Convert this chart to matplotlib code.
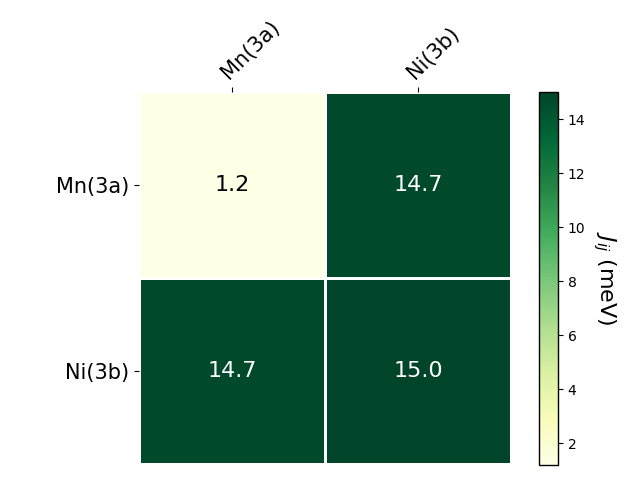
import numpy as np
import matplotlib
matplotlib.use("Agg")
import matplotlib.pyplot as plt

labels = ["Mn(3a)", "Ni(3b)"]
values = np.array([[1.2, 14.7],
                   [14.7, 15.0]])

fig = plt.figure(figsize=(6.4, 4.8), dpi=100)
ax = fig.add_axes([139 / 640, 16 / 480, 372 / 640, 372 / 480])
cax = fig.add_axes([539 / 640, 15 / 480, 19 / 640, 373 / 480])

mesh = ax.pcolormesh(values, cmap="YlGn", vmin=values.min(), vmax=values.max(),
                     edgecolors="white", linewidth=2)
ax.set_xlim(0, values.shape[1])
ax.set_ylim(values.shape[0], 0)
cbar = fig.colorbar(mesh, cax=cax)
cbar.outline.set_linewidth(1.0)
cbar.ax.set_ylabel("$J_{ij}$ (meV)", rotation=-90, va="bottom", fontsize=16)

ax.set_xticks(np.arange(len(labels)) + 0.5)
ax.set_yticks(np.arange(len(labels)) + 0.5)
ax.set_xticklabels(labels, fontsize=15)
ax.set_yticklabels(labels, fontsize=15)
ax.tick_params(top=True, bottom=False, labeltop=True, labelbottom=False)
plt.setp(ax.get_xticklabels(), rotation=45, ha="left", rotation_mode="anchor")

for s in ax.spines.values():
    s.set_visible(False)

thr = (values.max() + values.min()) / 2
for i in range(values.shape[0]):
    for j in range(values.shape[1]):
        v = values[i, j]
        ax.text(j + 0.5, i + 0.5, f"{v:.1f}", ha="center", va="center", fontsize=16,
                color="white" if v > thr else "black")

fig.savefig("out.png", dpi=100)
